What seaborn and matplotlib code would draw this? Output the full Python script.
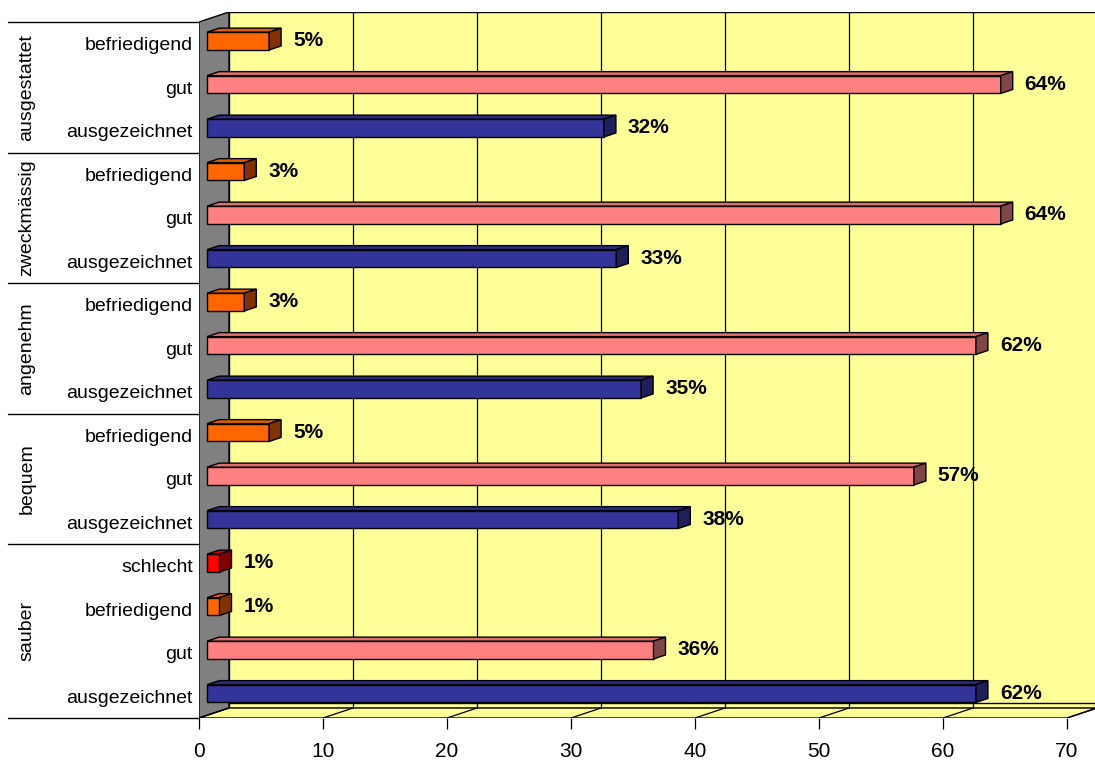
import matplotlib
matplotlib.use("Agg")
import matplotlib.pyplot as plt
from matplotlib.patches import Polygon, Rectangle
from matplotlib.transforms import blended_transform_factory
import seaborn as sns
import pandas as pd

# ---- data -------------------------------------------------------------
groups = ["ausgestattet", "zweckmässig", "angenehm", "bequem", "sauber"]

ausgestattet_labels = ["befriedigend", "gut", "ausgezeichnet"]
ausgestattet_values = [5, 64, 32]

zweckmaessig_labels = ["befriedigend", "gut", "ausgezeichnet"]
zweckmaessig_values = [3, 64, 33]

angenehm_labels = ["befriedigend", "gut", "ausgezeichnet"]
angenehm_values = [3, 62, 35]

bequem_labels = ["befriedigend", "gut", "ausgezeichnet"]
bequem_values = [5, 57, 38]

sauber_labels = ["schlecht", "befriedigend", "gut", "ausgezeichnet"]
sauber_values = [1, 1, 36, 62]

x_ticks = [0, 10, 20, 30, 40, 50, 60, 70]

# colours per rating: front, top, side
face_colors = {
    "schlecht": ("#FF0000", "#D00000", "#800000"),
    "befriedigend": ("#FF6600", "#E05A00", "#803300"),
    "gut": ("#FF8080", "#E07070", "#804545"),
    "ausgezeichnet": ("#333399", "#2B2B80", "#1F1F5C"),
}
wall_yellow = "#FFFF99"
wall_gray = "#808080"

# ---- table ------------------------------------------------------------
group_parts = [
    (groups[0], ausgestattet_labels, ausgestattet_values),
    (groups[1], zweckmaessig_labels, zweckmaessig_values),
    (groups[2], angenehm_labels, angenehm_values),
    (groups[3], bequem_labels, bequem_values),
    (groups[4], sauber_labels, sauber_values),
]
rows = []
for g, labs, vals in group_parts:
    for lab, v in zip(labs, vals):
        rows.append({"key": f"{g}|{lab}", "group": g, "rating": lab, "value": v})
df = pd.DataFrame(rows)
n_rows = len(df)

# ---- figure / 3D geometry ----------------------------------------------
W, H, DPI = 1095, 762, 100
sns.set_style("white")
plt.rcParams["font.family"] = ["Liberation Sans", "DejaVu Sans"]
plt.rcParams["text.color"] = "black"
plt.rcParams["xtick.color"] = "black"
plt.rcParams["ytick.color"] = "black"
plt.rcParams["xtick.labelcolor"] = "black"
plt.rcParams["ytick.labelcolor"] = "black"

fig = plt.figure(figsize=(W / DPI, H / DPI), dpi=DPI)
fig.patch.set_facecolor("white")

px_per_unit = 12.4       # horizontal scale
px_per_row = 43.5        # vertical scale
depth_px = (30, 10)      # depth shift of the back wall (right, up)
DX = depth_px[0] / px_per_unit
DY = -depth_px[1] / px_per_row

x_max = x_ticks[-1]
y_top, y_bot = -0.5, n_rows - 0.5
ax_left_px, ax_top_px = 199, 22 - depth_px[1]
ax_w_px = (x_max + DX) * px_per_unit
ax_h_px = (y_bot - (y_top + DY)) * px_per_row
ax = fig.add_axes([ax_left_px / W, 1 - (ax_top_px + ax_h_px) / H,
                   ax_w_px / W, ax_h_px / H])
ax.set_facecolor("none")

# ---- bars (front faces) ------------------------------------------------
palette = {k: v[0] for k, v in face_colors.items()}
sns.barplot(data=df, y="key", x="value", hue="rating", palette=palette,
            saturation=1, dodge=False, orient="h", width=0.41,
            order=list(df["key"]), edgecolor="black", linewidth=1.0,
            legend=False, ax=ax, zorder=4)

ax.set_xlim(0, x_max + DX)
ax.set_ylim(y_bot, y_top + DY)

# ---- walls and floor ----------------------------------------------------
ax.add_patch(Rectangle((DX, y_top + DY), x_max, y_bot - y_top,
                       facecolor=wall_yellow, edgecolor="black", lw=1.0, zorder=0))
ax.add_patch(Polygon([(0, y_top), (DX, y_top + DY), (DX, y_bot + DY), (0, y_bot)],
                     closed=True, facecolor=wall_gray, edgecolor="black", lw=1.0, zorder=1))
ax.add_patch(Polygon([(0, y_bot), (x_max, y_bot), (x_max + DX, y_bot + DY), (DX, y_bot + DY)],
                     closed=True, facecolor=wall_yellow, edgecolor="black", lw=1.0, zorder=1))
wall_base = y_bot + DY - 5 / px_per_row
ax.plot([DX, x_max + DX], [wall_base, wall_base], color="black", lw=1.0, zorder=1.2)
for t in x_ticks[1:-1]:
    ax.plot([t + DX, t + DX], [y_top + DY, y_bot + DY], color="black", lw=0.9, zorder=1.5)
for t in x_ticks:
    ax.plot([t, t + DX], [y_bot, y_bot + DY], color="black", lw=0.9, zorder=1.5)

# ---- 3D boxes: shift the fronts into depth, add top and side faces ------
d_front, d_back = 0.27, 0.67
fx, fy = d_front * DX, d_front * DY
bx, by = (d_back - d_front) * DX, (d_back - d_front) * DY
for patch in list(ax.patches):
    if not hasattr(patch, "get_width") or patch.get_zorder() != 4:
        continue
    w = patch.get_width()
    if w != w:
        continue
    y0, h = patch.get_y(), patch.get_height()
    row = int(round(y0 + h / 2))
    rating = df["rating"].iloc[row]
    _, top_c, side_c = face_colors[rating]
    x0 = patch.get_x() + fx
    y0 = y0 + fy
    patch.set_x(x0)
    patch.set_y(y0)
    x1 = x0 + w
    ax.add_patch(Polygon([(x0, y0), (x1, y0), (x1 + bx, y0 + by), (x0 + bx, y0 + by)],
                         closed=True, facecolor=top_c, edgecolor="black", lw=1.0, zorder=4))
    ax.add_patch(Polygon([(x1, y0), (x1, y0 + h), (x1 + bx, y0 + h + by), (x1 + bx, y0 + by)],
                         closed=True, facecolor=side_c, edgecolor="black", lw=1.0, zorder=4))

# ---- value labels --------------------------------------------------------
for i, v in enumerate(df["value"]):
    ax.annotate(f"{v}%", xy=(v, i), xytext=(32 * 0.72, 3 * 0.72),
                textcoords="offset points", ha="left", va="center",
                fontsize=15, fontweight="bold", color="black", zorder=6)

# ---- axes, ticks --------------------------------------------------------
for s in ax.spines.values():
    s.set_visible(False)
ax.set_xticks(x_ticks)
ax.set_xticklabels([str(t) for t in x_ticks])
ax.tick_params(axis="x", direction="out", length=8, width=0.9, color="black",
               pad=9, labelsize=15, bottom=True, labelcolor="black")
ax.set_yticks(range(n_rows))
ax.set_yticklabels(df["rating"])
ax.tick_params(axis="y", length=0, pad=4.5, labelsize=14, labelcolor="black")
ax.set_xlabel("")
ax.set_ylabel("")

# group brackets and rotated group names on the left
trans = blended_transform_factory(fig.transFigure, ax.transData)
start = 0
bounds = [y_top]
for g, labs, _ in group_parts:
    end = start + len(labs)
    bounds.append(end - 0.5)
    ax.text(27 / W, (start + end - 1) / 2, g, rotation=90, ha="center", va="center",
            fontsize=14, color="black", transform=trans, clip_on=False)
    start = end
for b in bounds:
    ax.plot([8 / W, 199 / W], [b, b], color="black", lw=1.0, transform=trans,
            clip_on=False, zorder=2)

fig.savefig("out.png", dpi=DPI)
